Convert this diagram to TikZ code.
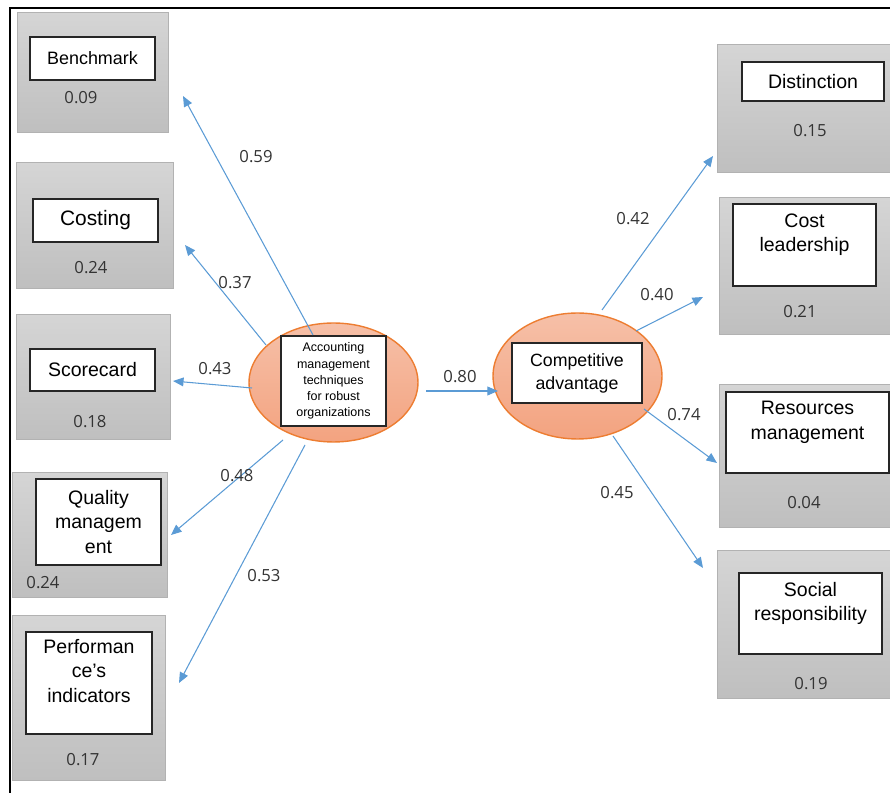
\documentclass[tikz,border=0pt]{standalone}
\usepackage{fontspec}
\setmainfont{Liberation Sans}
\newfontfamily\numfont{Open Sans}
\usetikzlibrary{shapes.geometric,arrows.meta}
\definecolor{pathblue}{RGB}{91,155,213}
\definecolor{latentedge}{RGB}{237,125,49}
\definecolor{latenttop}{RGB}{246,192,168}
\definecolor{latentbot}{RGB}{243,163,128}
\definecolor{itemtop}{RGB}{213,213,213}
\definecolor{itembot}{RGB}{191,191,191}
\definecolor{itemedge}{RGB}{178,178,178}

\begin{document}
\begin{tikzpicture}[x=0.02cm,y=-0.02cm,
    item/.style 2 args={draw=itemedge,top color=itemtop,bottom color=itembot,
      minimum width=#1,minimum height=#2,inner sep=0pt},
    ind/.style 2 args={draw=black!85,fill=white,line width=0.7pt,align=center,
      minimum width=#1,minimum height=#2,inner sep=1pt,
      font=\fontsize{11.1}{13.8}\selectfont},
    latent/.style={ellipse,draw=latentedge,line width=0.8pt,
      top color=latenttop,bottom color=latentbot,inner sep=0pt},
    val/.style={font=\numfont\fontsize{9.5}{11}\selectfont,text=black!80,inner sep=1pt},
    arr/.style={draw=pathblue,line width=0.6pt,-{Triangle[length=6pt,width=5pt]}}]
  \path[clip,use as bounding box] (0,0) rectangle (890,793);
  \draw[line width=0.6pt] (10,793) -- (10,8) -- (890,8);

  % left indicators
  \node[item={3.02cm}{2.4cm}] (bench) at (92.5,72) {};
  \node[ind={2.5cm}{0.86cm},font=\fontsize{10.2}{12}\selectfont] (benchtxt) at (92.5,58.5) {Benchmark};
  \node[val] (benchval) at (81,98) {0.09};

  \node[item={3.14cm}{2.52cm}] (cost) at (94.5,225) {};
  \node[ind={2.5cm}{0.86cm},font=\fontsize{11.9}{14}\selectfont] (costtxt) at (95.5,220.5) {Costing};
  \node[val] (costval) at (91,268) {0.24};

  \node[item={3.08cm}{2.5cm}] (score) at (93,376.5) {};
  \node[ind={2.5cm}{0.84cm}] (scoretxt) at (92.5,370) {Scorecard};
  \node[val] (scoreval) at (90,422) {0.18};

  \node[item={3.1cm}{2.5cm}] (qual) at (89.5,534.5) {};
  \node[ind={2.5cm}{1.72cm}] (qualtxt) at (98.5,522) {Quality\\managem\\ent};
  \node[val] (qualval) at (43,583) {0.24};

  \node[item={3.06cm}{3.3cm}] (perf) at (88.5,697.5) {};
  \node[ind={2.52cm}{2.04cm}] (perftxt) at (89,683) {Performan\\ce’s\\indicators\\~};
  \node[val] (perfval) at (83,760) {0.17};

  % right indicators
  \node[item={3.76cm}{2.56cm}] (dist) at (811,108) {};
  \node[ind={2.84cm}{0.78cm}] (disttxt) at (813,81.5) {Distinction};
  \node[val] (distval) at (810,131) {0.15};

  \node[item={3.72cm}{2.74cm}] (lead) at (812,265.5) {};
  \node[ind={2.86cm}{1.64cm}] (leadtxt) at (804.5,245) {Cost\\leadership\\~};
  \node[val] (leadval) at (800,312) {0.21};

  \node[item={3.72cm}{2.86cm}] (res) at (812,455.5) {};
  \node[ind={3.26cm}{1.62cm}] (restxt) at (807.5,432.5) {Resources\\management\\~};
  \node[val] (resval) at (804,503) {0.04};

  \node[item={3.76cm}{2.96cm}] (soc) at (811,624) {};
  \node[ind={2.86cm}{1.62cm}] (soctxt) at (810.5,613.5) {Social\\responsibility\\~};
  \node[val] (socval) at (811,684) {0.19};

  % latent variables
  \node[latent,minimum width=3.38cm,minimum height=2.38cm] (acc) at (333.5,382.5) {};
  \node[ind={2.1cm}{1.8cm},font=\fontsize{7.1}{9.2}\selectfont] (acctxt) at (333.5,381)
    {Accounting\\management\\techniques\\for robust\\organizations};
  \node[latent,minimum width=3.38cm,minimum height=2.52cm] (comp) at (577.5,376) {};
  \node[ind={2.6cm}{1.2cm},font=\fontsize{10.1}{13}\selectfont] (comptxt) at (577,373)
    {Competitive\\advantage};

  % arrow ends
  \coordinate (a1) at (313,335);   \coordinate (bench-in) at (183,96);
  \coordinate (a2) at (266,345);   \coordinate (cost-in) at (185,245);
  \coordinate (a3) at (252,388);   \coordinate (score-in) at (173,381);
  \coordinate (a4) at (283,440);   \coordinate (qual-in) at (171,535);
  \coordinate (a5) at (305,445);   \coordinate (perf-in) at (179,683);
  \coordinate (a6) at (426,391);   \coordinate (comp-in) at (498,391);
  \coordinate (c1) at (602,310);   \coordinate (dist-in) at (713,156);
  \coordinate (c2) at (636,331);   \coordinate (lead-in) at (703,297);
  \coordinate (c3) at (644,409);   \coordinate (res-in) at (717,463);
  \coordinate (c4) at (613,436);   \coordinate (soc-in) at (703,568);

  \draw[arr] (a1) -- (bench-in);
  \draw[arr] (a2) -- (cost-in);
  \draw[arr] (a3) -- (score-in);
  \draw[arr] (a4) -- (qual-in);
  \draw[arr] (a5) -- (perf-in);
  \draw[arr] (a6) -- (comp-in);
  \draw[arr] (c1) -- (dist-in);
  \draw[arr] (c2) -- (lead-in);
  \draw[arr] (c3) -- (res-in);
  \draw[arr] (c4) -- (soc-in);

  \node[val] (p59) at (256,157) {0.59};
  \node[val] (p37) at (235,283) {0.37};
  \node[val] (p43) at (215,369) {0.43};
  \node[val] (p48) at (237,476) {0.48};
  \node[val] (p53) at (264,576) {0.53};
  \node[val] (p80) at (460,377) {0.80};
  \node[val] (p42) at (633,219) {0.42};
  \node[val] (p40) at (657,295) {0.40};
  \node[val] (p74) at (684,415) {0.74};
  \node[val] (p45) at (617,493) {0.45};
\end{tikzpicture}
\end{document}
